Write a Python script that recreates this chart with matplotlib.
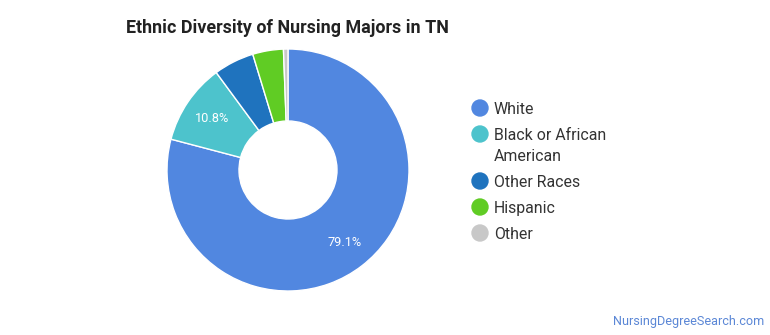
import matplotlib.pyplot as plt
from matplotlib.patches import Circle

plt.rcParams['font.family'] = ['Roboto', 'DejaVu Sans']

# data
races = ['White', 'Black or African\nAmerican', 'Other Races', 'Hispanic', 'Other']
shares = [79.1, 10.8, 5.4, 4.1, 0.6]
colors = ['#5187e0', '#4dc3cc', '#1f73be', '#60cc24', '#c8c8c8']

W, H = 770, 335
fig = plt.figure(figsize=(W / 100, H / 100), dpi=100)

# donut, centre (288,170) px, radius 121 px
cx, cy, r = 288, 170, 121
ax = fig.add_axes([(cx - r) / W, (H - cy - r) / H, 2 * r / W, 2 * r / H])
wedges, texts, autotexts = ax.pie(
    shares, colors=colors, startangle=90, counterclock=False, radius=1,
    wedgeprops=dict(width=0.595, edgecolor='white', linewidth=1),
    autopct=lambda p: f'{p:.1f}%' if p > 8 else '', pctdistance=0.76)
for t in autotexts:
    t.set_color('white')
    t.set_fontsize(9.2)
ax.set_xlim(-1, 1)
ax.set_ylim(-1, 1)
ax.axis('off')

# overlay axes in pixel coords for title / legend / footer
ov = fig.add_axes([0, 0, 1, 1], zorder=-1)
ov.set_xlim(0, W)
ov.set_ylim(H, 0)
ov.axis('off')

ov.text(126, 28, 'Ethnic Diversity of Nursing Majors in TN', fontsize=12.9,
        fontweight='bold', color='#222222', va='center', ha='left')

ys = [108, 134, 181, 207, 233]
for name, col, y in zip(races, colors, ys):
    ov.add_patch(Circle((480, y), 8, color=col))
    for i, line in enumerate(name.split('\n')):
        ov.text(494, y + 1.5 + i * 21, line, fontsize=11.4, color='#333333',
                va='center', ha='left')

ov.text(764, 321, 'NursingDegreeSearch.com', fontsize=9.1, color='#5b87d6',
        ha='right', va='center')

fig.savefig('out.png', dpi=100)
